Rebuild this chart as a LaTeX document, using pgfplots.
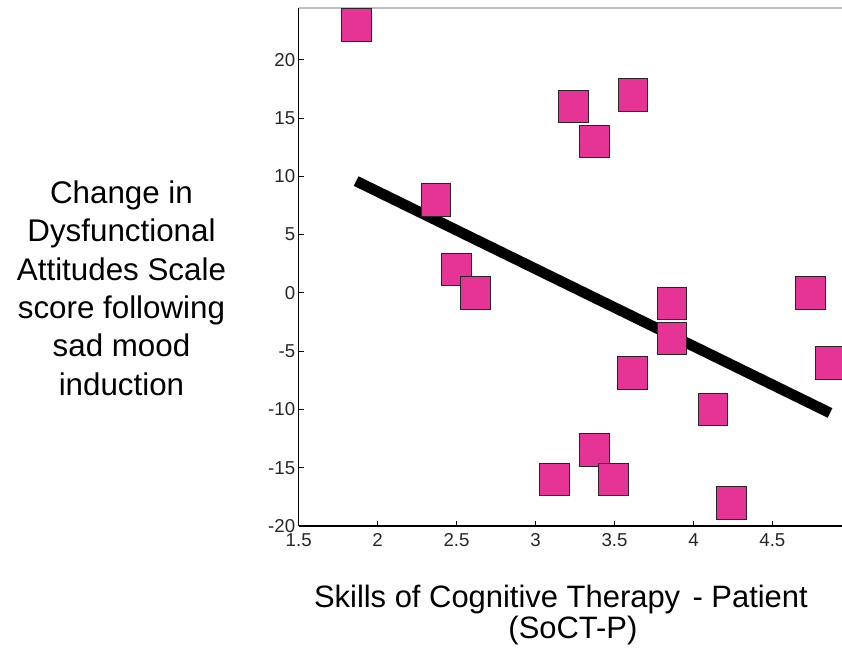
\documentclass[border=0pt]{standalone}
\usepackage{pgfplots}
\pgfplotsset{compat=1.18}
\usepackage{fontspec}
\setmainfont{Liberation Sans}
\definecolor{dotpink}{RGB}{230,51,150}

% SoCT-P score vs. change in DAS score
\pgfplotstableread{
x      y
1.867  23
2.370  8
2.501  2
2.618  0
3.121  -16
3.242  16
3.373  13
3.373  -13.5
3.495  -16
3.617  17
3.616  -6.9
3.864  -0.9
3.864  -3.9
4.124  -10
4.241  -18
4.744  0
4.867  -6
}\dastable

\begin{document}
\begin{tikzpicture}
\begin{axis}[
  scale only axis,
  width=407.4pt, height=388.5pt,
  xmin=1.5, xmax=4.94, ymin=-20, ymax=24.45,
  axis x line*=bottom, axis y line*=left,
  axis line style={black, line width=0.9pt},
  tick align=inside,
  major tick length=4pt,
  tick style={black, line width=0.8pt},
  xtick={1.5,2,2.5,3,3.5,4,4.5},
  xticklabels={1.5,2,2.5,3,3.5,4,4.5},
  ytick={-20,-15,-10,-5,0,5,10,15,20},
  yticklabels={-20,-15,-10,-5,0,5,10,15,20},
  ticklabel style={font=\fontsize{14}{16}\selectfont, text=black!85},
  xticklabel style={inner sep=5.6pt},
  yticklabel style={inner sep=2.4pt},
  clip=false,
]
\addplot[only marks, mark=square*, mark size=11.2pt,
  mark options={fill=dotpink, draw=black!85, line width=0.75pt, yscale=1.095}]
  table[x=x, y=y] {\dastable};
\addplot[black, line width=8pt, line cap=butt]
  coordinates {(1.864,9.6) (4.865,-10.3)};
\draw[black!25, line width=0.8pt] (rel axis cs:0,1) -- (rel axis cs:1,1);
\end{axis}

% y-axis title
\begin{scope}[every node/.style={anchor=base, font=\fontsize{23.5}{27}\selectfont, inner sep=0pt}]
\node at (-132.9pt,242pt)    {Change in};
\node at (-132.9pt,213.25pt) {Dysfunctional};
\node at (-132.9pt,184.5pt)  {Attitudes Scale};
\node at (-132.9pt,155.75pt) {score following};
\node at (-132.9pt,127pt)    {sad mood};
\node at (-132.9pt,98.25pt)  {induction};
\end{scope}

% x-axis title
\begin{scope}[every node/.style={anchor=base, font=\fontsize{23.2}{27}\selectfont, inner sep=0pt}]
\node at (196.7pt,-60.75pt) {Skills of Cognitive Therapy\hspace{0.4em}- Patient};
\node at (205.7pt,-84pt)    {(SoCT-P)};
\end{scope}

\pgfresetboundingbox
\path (-224pt,-96pt) rectangle (407.5pt,394.5pt);
\end{tikzpicture}
\end{document}
